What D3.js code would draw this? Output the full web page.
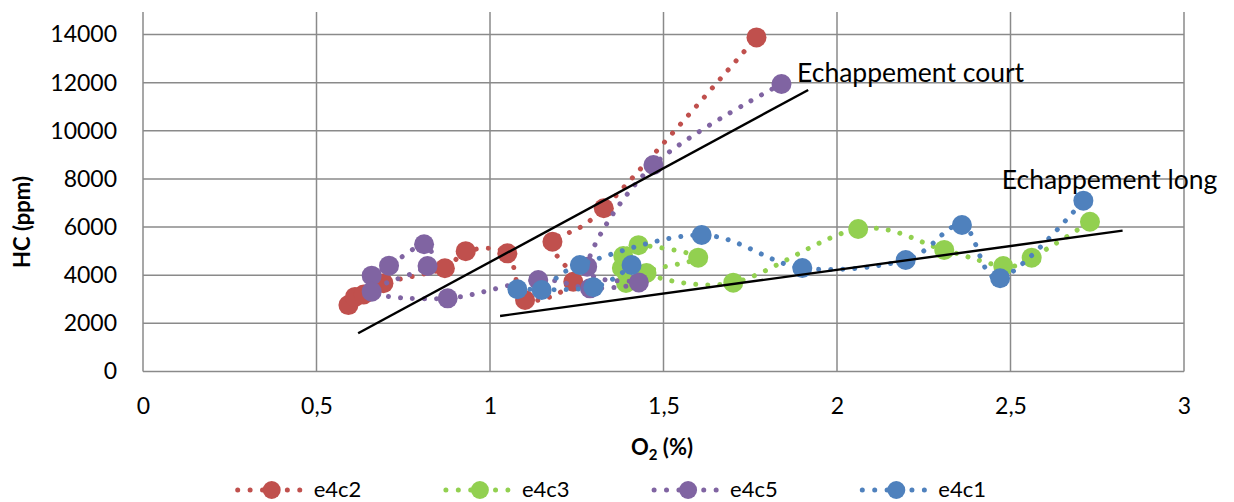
<!DOCTYPE html>
<html>
<head>
<meta charset="utf-8">
<script src="https://cdn.jsdelivr.net/npm/d3@7"></script>
<style>
  html, body { margin: 0; padding: 0; background: #ffffff; }
  svg { display: block; font-family: Lato, "Liberation Sans", sans-serif; }
</style>
</head>
<body>
<svg id="chart" width="1234" height="502"></svg>
<script>
// ---- data ----
const xTicks = [0, 0.5, 1, 1.5, 2, 2.5, 3];
const yTicks = [0, 2000, 4000, 6000, 8000, 10000, 12000, 14000];

const seriesNames = ["e4c2", "e4c3", "e4c5", "e4c1"];
const seriesColors = ["#C0504D", "#92D050", "#8064A2", "#4F81BD"];

const e4c2X = [0.592, 0.611, 0.636, 0.693, 0.870, 0.930, 1.050, 1.101, 1.240, 1.180, 1.328, 1.768];
const e4c2Y = [2760, 3100, 3200, 3670, 4290, 5000, 4910, 2970, 3730, 5390, 6780, 13880];

const e4c3X = [1.392, 1.380, 1.384, 1.428, 1.600, 1.451, 1.701, 2.061, 2.309, 2.479, 2.561, 2.729];
const e4c3Y = [3680, 4300, 4800, 5250, 4730, 4090, 3690, 5920, 5050, 4380, 4730, 6220];

const e4c5X = [0.659, 0.709, 0.810, 0.820, 0.659, 0.878, 1.139, 1.288, 1.429, 1.280, 1.471, 1.840];
const e4c5Y = [3980, 4396, 5285, 4383, 3316, 3040, 3801, 3456, 3700, 4354, 8579, 11944];

const e4c1X = [1.408, 1.298, 1.079, 1.149, 1.259, 1.610, 1.900, 2.198, 2.360, 2.470, 2.710];
const e4c1Y = [4425, 3498, 3415, 3386, 4425, 5671, 4300, 4632, 6086, 3872, 7096];

// hand-drawn trend lines (data units)
const courtX = [0.620, 1.917];
const courtY = [1587, 11695];
const longX = [1.029, 2.823];
const longY = [2306, 5850];

const annotTexts = ["Echappement court", "Echappement long"];
const annotX = [1.885, 2.475];
const annotY = [12030, 7570];

// ---- layout ----
const left = 143, right = 1184, bottom = 371.5, y14 = 34.5, plotTop = 12;
const svg = d3.select("#chart");
const x = d3.scaleLinear().domain([0, 3]).range([left, right]);
const y = d3.scaleLinear().domain([0, 14000]).range([bottom, y14]);
const gridColor = "#8a8a8a";
const fmtX = v => String(v).replace(".", ",");

// gridlines
svg.append("g").selectAll("line.h").data(yTicks.filter(d => d > 0)).join("line")
  .attr("x1", left).attr("x2", right)
  .attr("y1", d => y(d)).attr("y2", d => y(d))
  .attr("stroke", gridColor).attr("stroke-width", 1.5);
svg.append("g").selectAll("line.v").data(xTicks.filter(d => d > 0)).join("line")
  .attr("x1", d => x(d)).attr("x2", d => x(d))
  .attr("y1", bottom).attr("y2", plotTop)
  .attr("stroke", gridColor).attr("stroke-width", 1.5);

// axes via d3 axis
const yAxis = svg.append("g").attr("transform", `translate(${left},0)`)
  .call(d3.axisLeft(y).tickValues(yTicks).tickSize(0).tickPadding(26).tickFormat(d3.format("d")));
yAxis.select(".domain").remove();
yAxis.selectAll("text").attr("font-size", 23).attr("fill", "#000").attr("font-family", "Lato, sans-serif");
const xAxis = svg.append("g").attr("transform", `translate(0,${bottom})`)
  .call(d3.axisBottom(x).tickValues(xTicks).tickSize(0).tickPadding(26).tickFormat(fmtX));
xAxis.select(".domain").remove();
xAxis.selectAll("text").attr("font-size", 23).attr("fill", "#000").attr("font-family", "Lato, sans-serif");

svg.append("line").attr("x1", left).attr("x2", left).attr("y1", plotTop).attr("y2", bottom)
  .attr("stroke", gridColor).attr("stroke-width", 1.5);
svg.append("line").attr("x1", left).attr("x2", right).attr("y1", bottom).attr("y2", bottom)
  .attr("stroke", gridColor).attr("stroke-width", 1.5);

// axis titles
svg.append("text").attr("transform", `translate(30,${222}) rotate(-90)`)
  .attr("text-anchor", "middle").attr("font-weight", "bold").attr("font-size", 22)
  .text("HC (ppm)");
const xt = svg.append("text").attr("x", 662).attr("y", 455)
  .attr("text-anchor", "middle").attr("font-weight", "bold").attr("font-size", 22);
xt.append("tspan").text("O");
xt.append("tspan").attr("font-size", 15).attr("dy", 5).text("2");
xt.append("tspan").attr("dy", -5).text(" (%)");

// series
const allX = [e4c2X, e4c3X, e4c5X, e4c1X];
const allY = [e4c2Y, e4c3Y, e4c5Y, e4c1Y];
const line = d3.line().x(d => x(d[0])).y(d => y(d[1])).curve(d3.curveCardinal.tension(0));

seriesNames.forEach((name, i) => {
  const pts = allX[i].map((v, j) => [v, allY[i][j]]);
  const g = svg.append("g");
  g.append("path").datum(pts).attr("d", line)
    .attr("fill", "none").attr("stroke", seriesColors[i]).attr("stroke-width", 5)
    .attr("stroke-linecap", "round").attr("stroke-dasharray", "0.01 12");
  g.selectAll("circle").data(pts).join("circle")
    .attr("cx", d => x(d[0])).attr("cy", d => y(d[1])).attr("r", 10)
    .attr("fill", seriesColors[i]);
});

// trend lines
[[courtX, courtY], [longX, longY]].forEach(([lx, ly]) => {
  svg.append("line")
    .attr("x1", x(lx[0])).attr("y1", y(ly[0]))
    .attr("x2", x(lx[1])).attr("y2", y(ly[1]))
    .attr("stroke", "#000").attr("stroke-width", 2.4);
});

// annotations
annotTexts.forEach((t, i) => {
  svg.append("text").attr("x", x(annotX[i])).attr("y", y(annotY[i]))
    .attr("font-size", 26.5).attr("fill", "#000").text(t);
});

// legend
const legX0 = 271.7, legStep = 208.2, legY = 490;
seriesNames.forEach((name, i) => {
  const cx = legX0 + i * legStep;
  const g = svg.append("g");
  g.append("line").attr("x1", cx - 34).attr("x2", cx + 29).attr("y1", legY).attr("y2", legY)
    .attr("stroke", seriesColors[i]).attr("stroke-width", 5)
    .attr("stroke-linecap", "round").attr("stroke-dasharray", "0.01 12.4");
  g.append("circle").attr("cx", cx).attr("cy", legY).attr("r", 9).attr("fill", seriesColors[i]);
  g.append("text").attr("x", cx + 42).attr("y", legY + 6.5)
    .attr("font-size", 22).attr("fill", "#000").text(name);
});
</script>
</body>
</html>
